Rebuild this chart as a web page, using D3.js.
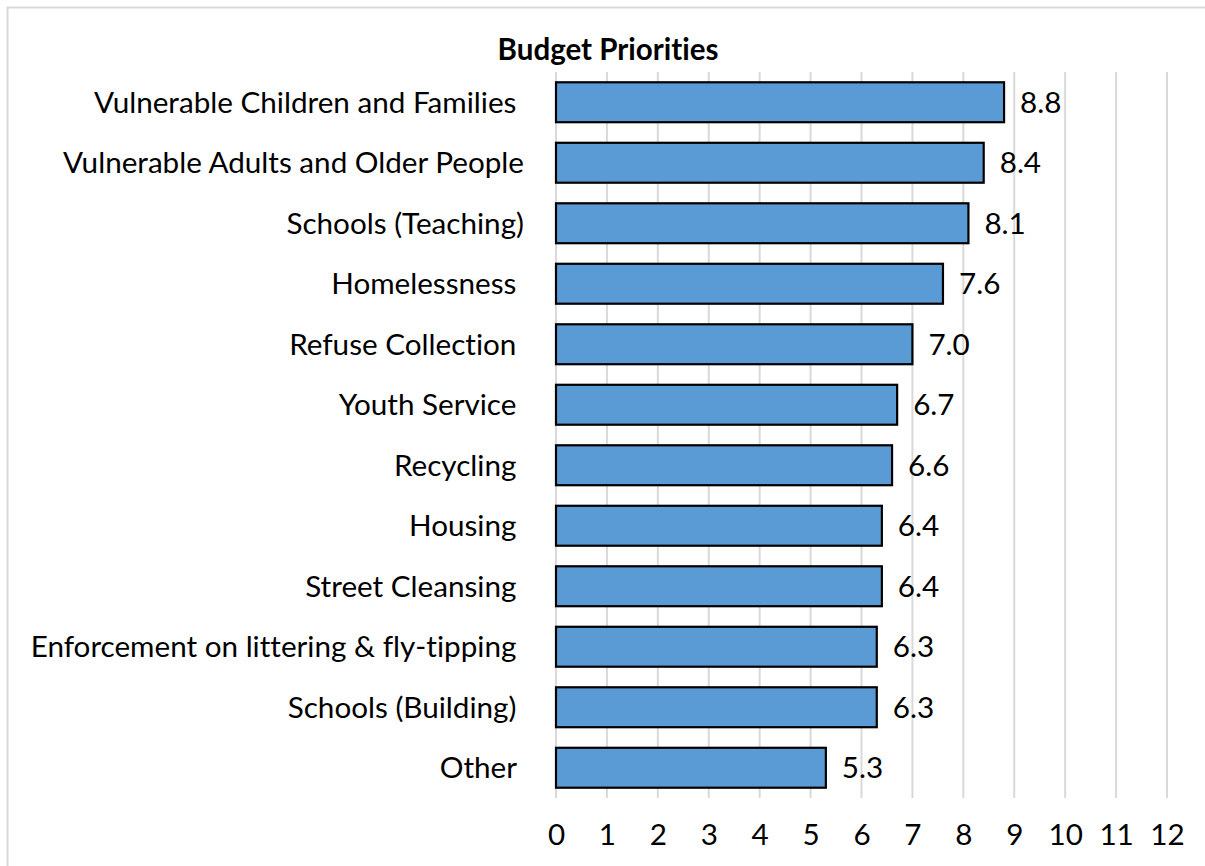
<!DOCTYPE html>
<html>
<head>
<meta charset="utf-8">
<script src="https://cdn.jsdelivr.net/npm/d3@7"></script>
<style>
  body { margin: 0; background: #fff; }
  text { font-family: Lato, 'Open Sans', sans-serif; fill: #000; font-variant-ligatures: none; }
</style>
</head>
<body>
<div id="app"></div>
<script>
// trailing spaces kept: some labels in the source end with a blank
const categories = [
  'Vulnerable Children and Families ',
  'Vulnerable Adults and Older People',
  'Schools (Teaching)',
  'Homelessness ',
  'Refuse Collection ',
  'Youth Service ',
  'Recycling ',
  'Housing ',
  'Street Cleansing ',
  'Enforcement on littering & fly-tipping ',
  'Schools (Building) ',
  'Other ',
];
const scores = [8.8, 8.4, 8.1, 7.6, 7.0, 6.7, 6.6, 6.4, 6.4, 6.3, 6.3, 5.3];
const ticks = d3.range(0, 13);
const title = 'Budget Priorities';

const width = 1205;
const height = 866;
const margin = { top: 72, right: 38, bottom: 68, left: 556 };

const svg = d3
  .select('#app')
  .append('svg')
  .attr('width', width)
  .attr('height', height);

// outer chart border
svg
  .append('rect')
  .attr('x', 7.5)
  .attr('y', 7.5)
  .attr('width', 1210)
  .attr('height', 870)
  .attr('fill', 'none')
  .attr('stroke', '#d9d9d9')
  .attr('stroke-width', 2);

const x = d3
  .scaleLinear()
  .domain([0, 12])
  .range([margin.left, width - margin.right]);

const y = d3
  .scaleBand()
  .domain(categories)
  .range([margin.top, height - margin.bottom])
  .paddingInner(0.34)
  .paddingOuter(0.17);

// measure text so the fallback font fills the same width as the original
function fitSize(str, target, weight) {
  const t = svg
    .append('text')
    .attr('font-size', 100)
    .attr('font-weight', weight || 'normal')
    .style('white-space', 'pre')
    .text(str);
  const w = t.node().getComputedTextLength();
  t.remove();
  return (100 * target) / w;
}

const labelSize = fitSize('Enforcement on littering & fly-tipping', 486);
const titleSize = fitSize(title, 221, 'bold');

// gridlines
svg
  .append('g')
  .selectAll('line')
  .data(ticks)
  .enter()
  .append('line')
  .attr('x1', (d) => x(d))
  .attr('x2', (d) => x(d))
  .attr('y1', margin.top)
  .attr('y2', height - margin.bottom)
  .attr('stroke', '#d9d9d9')
  .attr('stroke-width', 2);

// bars
svg
  .append('g')
  .selectAll('rect')
  .data(scores)
  .enter()
  .append('rect')
  .attr('x', x(0))
  .attr('y', (d, i) => y(categories[i]))
  .attr('width', (d) => x(d) - x(0))
  .attr('height', y.bandwidth())
  .attr('fill', '#5b9bd5')
  .attr('stroke', '#000')
  .attr('stroke-width', 2.2);

// value labels
svg
  .append('g')
  .selectAll('text')
  .data(scores)
  .enter()
  .append('text')
  .attr('x', (d) => x(d) + 16)
  .attr('y', (d, i) => y(categories[i]) + y.bandwidth() / 2)
  .attr('dy', '0.36em')
  .attr('font-size', labelSize)
  .text((d) => d.toFixed(1));

// category axis
const yAxis = svg
  .append('g')
  .attr('transform', `translate(${margin.left - 32},0)`)
  .call(d3.axisLeft(y).tickSize(0).tickPadding(0));
yAxis.select('.domain').remove();
yAxis
  .selectAll('text')
  .attr('font-size', labelSize)
  .attr('font-family', null)
  .attr('dy', '0.36em')
  .style('white-space', 'pre');

// value axis
const xAxis = svg
  .append('g')
  .attr('transform', `translate(0,${height - margin.bottom})`)
  .call(d3.axisBottom(x).tickValues(ticks).tickSize(0).tickPadding(0));
xAxis.select('.domain').remove();
xAxis
  .selectAll('text')
  .attr('font-size', labelSize)
  .attr('font-family', null)
  .attr('dy', null)
  .attr('y', 47);

svg
  .append('text')
  .attr('x', 608)
  .attr('y', 60)
  .attr('text-anchor', 'middle')
  .attr('font-weight', 'bold')
  .attr('font-size', titleSize)
  .text(title);
</script>
</body>
</html>
